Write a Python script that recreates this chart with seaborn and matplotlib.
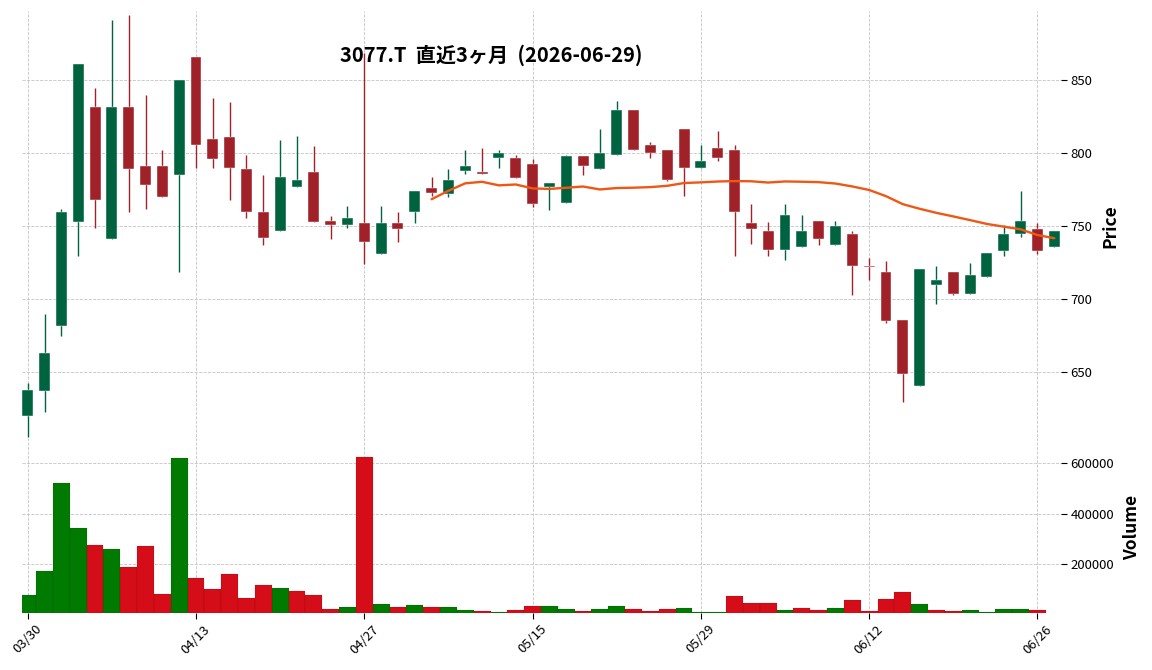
'''3077.T candlestick chart, last three months, with 25-day MA and volume'''
import numpy as np
import pandas as pd
import seaborn as sns
import matplotlib
matplotlib.use('Agg')
import matplotlib.pyplot as plt

#region data
TITLE = '3077.T  直近3ヶ月  (2026-06-29)'
HOLIDAYS = ['2026-04-29', '2026-05-04', '2026-05-05', '2026-05-06']
dates = pd.bdate_range('2026-03-30', '2026-06-29', freq='C', holidays=HOLIDAYS)

opens = [620, 637, 682, 753, 832, 741, 832, 791, 791, 785,
         866, 810, 811, 789, 760, 747, 777, 787, 754, 751,
         752, 731, 752, 760, 776, 772, 788, 787, 797, 797,
         793, 777, 766, 798, 789, 799, 830, 806, 802, 817,
         790, 804, 802, 752, 747, 734, 736, 754, 737, 745,
         723, 719, 686, 641, 710, 719, 704, 715, 733, 745,
         748, 736]
highs = [643, 690, 762, 861, 845, 891, 895, 840, 802, 850,
         866, 838, 835, 799, 785, 809, 812, 805, 757, 764,
         869, 764, 760, 774, 784, 789, 802, 804, 802, 799,
         796, 780, 799, 798, 817, 836, 830, 808, 802, 817,
         806, 815, 806, 765, 753, 765, 758, 754, 754, 747,
         728, 726, 686, 721, 723, 719, 725, 732, 751, 774,
         752, 747]
lows = [606, 623, 675, 730, 749, 741, 760, 762, 770, 719,
        790, 790, 768, 756, 737, 747, 777, 753, 741, 749,
        724, 731, 739, 752, 771, 770, 786, 786, 790, 783,
        763, 761, 766, 785, 789, 799, 802, 797, 781, 771,
        790, 795, 730, 738, 730, 727, 736, 737, 737, 703,
        713, 684, 630, 641, 697, 703, 704, 715, 730, 743,
        731, 736]
closes = [638, 663, 760, 861, 768, 832, 789, 778, 770, 850,
          806, 796, 790, 760, 742, 784, 782, 753, 751, 756,
          739, 752, 748, 774, 773, 782, 791, 786, 800, 783,
          765, 780, 798, 791, 800, 830, 802, 800, 782, 790,
          795, 797, 760, 748, 734, 758, 747, 741, 750, 723,
          722, 685, 649, 721, 713, 704, 717, 732, 745, 754,
          733, 747]
volumes = [78500, 173600, 519400, 343900, 276500, 260700, 189400, 272600, 82500, 621000,
           145900, 102300, 161700, 66700, 118100, 106300, 94400, 78500, 23100, 31000,
           625000, 42900, 31000, 38900, 31000, 31000, 19100, 15200, 11200, 19100,
           35000, 35000, 23100, 15200, 23100, 35000, 23100, 15200, 23100, 27000,
           11200, 11200, 74600, 46900, 46900, 19100, 27000, 19100, 27000, 58700,
           15200, 62700, 90400, 42900, 19100, 15200, 19100, 11200, 23100, 23100,
           19100, 0]
MAV = 25
#endregion

#region style
UP, DOWN = '#006340', '#a02128'
VUP, VDOWN = '#007a00', '#d50d18'
MA_COLOR = '#ef5714'
GRID = dict(linestyle='--', color='#c4c4c4', linewidth=0.6)

sns.set_theme(style='white', rc={'text.color': 'black', 'axes.labelcolor': 'black',
                                 'xtick.color': 'black', 'ytick.color': 'black'})
plt.rcParams['font.family'] = ['Noto Sans CJK JP', 'DejaVu Sans']
plt.rcParams['axes.unicode_minus'] = False
#endregion

df = pd.DataFrame({'date': dates, 'open': opens, 'high': highs, 'low': lows,
                   'close': closes, 'volume': volumes})
df['idx'] = np.arange(len(df))
df['ma'] = df['close'].rolling(MAV).mean()
df['vdir'] = np.where(df['close'].diff().fillna(1) >= 0, 'up', 'down')

fig = plt.figure(figsize=(11.52, 6.70), dpi=100)
ax = fig.add_axes([0.0191, 0.3418, 0.9019, 0.6418])
axv = fig.add_axes([0.0191, 0.0851, 0.9019, 0.2567], sharex=ax)

# candles
up = df['close'] >= df['open']
ccol = np.where(up, UP, DOWN)
ax.vlines(df['idx'], df['low'], df['high'], colors=ccol, linewidth=1.0, zorder=2)
body = np.maximum((df['close'] - df['open']).abs(), 0.7)
ax.bar(df['idx'], body, bottom=np.minimum(df['open'], df['close']), width=0.65,
       color=ccol, edgecolor='white', linewidth=0.3, zorder=3)
sns.lineplot(data=df, x='idx', y='ma', ax=ax, color=MA_COLOR, linewidth=1.7, zorder=4)

# volume
sns.barplot(data=df, x='idx', y='volume', hue='vdir', palette={'up': VUP, 'down': VDOWN},
            dodge=False, native_scale=True, width=1.0, saturation=1, legend=False,
            edgecolor=(0, 0, 0, 0.2), linewidth=0.3, ax=axv)

for a in (ax, axv):
    for s in a.spines.values():
        s.set_visible(False)
    a.set_axisbelow(True)
    a.grid(True, **GRID)
    a.yaxis.tick_right()
    a.yaxis.set_label_position('right')
    a.tick_params(axis='y', which='major', right=True, left=False, length=4, width=0.8,
                  color='black', labelsize=9.5, labelcolor='black', pad=3)

ticks = list(range(0, len(df), 10))
axv.set_xticks(ticks)
axv.set_xticklabels(df['date'].dt.strftime('%m/%d').iloc[ticks], rotation=45, ha='center')
axv.tick_params(axis='x', bottom=True, length=4, width=0.8, color='black', labelsize=9.5, pad=3)
ax.tick_params(axis='x', bottom=False, labelbottom=False)
ax.set_xlim(-0.34, 61.4)

ax.set_ylim(603, 897.5)
ax.set_yticks([650, 700, 750, 800, 850])
axv.set_ylim(7100, 687500)
axv.set_yticks([200000, 400000, 600000])
axv.set_yticklabels(['200000', '400000', '600000'])

ax.set_xlabel('')
axv.set_xlabel('')
ax.set_ylabel('Price', fontsize=12.5, fontweight='bold', labelpad=6)
axv.set_ylabel('Volume', fontsize=12.5, fontweight='bold', labelpad=6)

fig.text(0.426, 0.918, TITLE, ha='center', va='center', fontsize=14.5, fontweight='bold')

fig.savefig('out.png', dpi=100)
